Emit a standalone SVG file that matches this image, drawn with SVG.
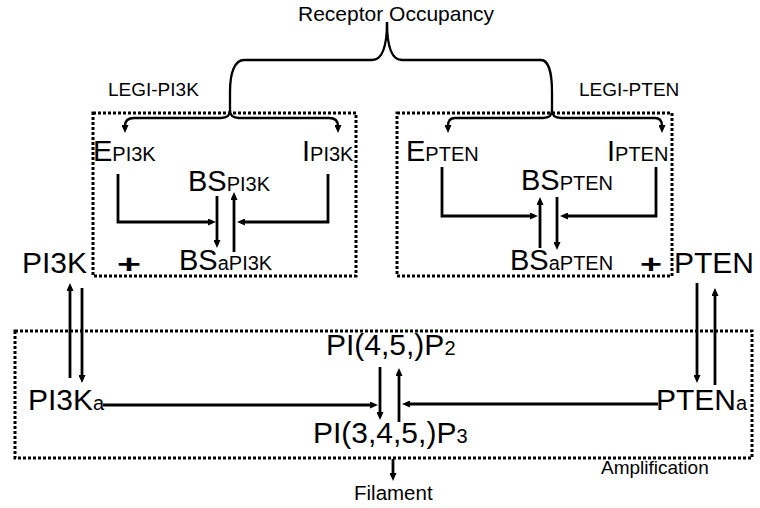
<svg xmlns="http://www.w3.org/2000/svg" width="760" height="508" viewBox="0 0 760 508">
<style>
text{font-family:"Liberation Sans",Arial,sans-serif;fill:#000}
.big{font-size:29px}
.out{font-size:30px}
.sub{font-size:20px}
.lbl{font-size:19px}
.plus{font-size:25px;font-weight:bold}
.box{fill:none;stroke:#000;stroke-width:3;stroke-dasharray:3 2}
.ln{fill:none;stroke:#000;stroke-width:2.8;marker-end:url(#ah)}
.fk{stroke-width:2.3}
.br{fill:none;stroke:#000;stroke-width:2.3}
</style>
<defs>
<marker id="ah" markerWidth="8" markerHeight="7" refX="4" refY="3.5" orient="auto" markerUnits="userSpaceOnUse">
<path d="M0,0 L8,3.5 L0,7 z" fill="#000"/>
</marker>
</defs>
<rect width="760" height="508" fill="#fff"/>

<g id="boxes">
<rect id="legi-pi3k-box" class="box" x="93" y="113" width="263" height="163"/>
<rect id="legi-pten-box" class="box" x="397" y="113" width="275" height="163"/>
<rect id="amplification-box" class="box" x="15" y="331" width="737" height="127"/>
</g>

<g id="connectors">
<path class="br" d="M387,22 C387,48 382,60 372,60 L244,60 C235,60 230,72 230,92 L230,110"/>
<path class="br" d="M387,22 C387,48 392,60 402,60 L541,60 C548,60 552,72 552,92 L552,110"/>
<path class="ln fk" d="M230,110 C230,116 227,118 221,118 L134,118 C128,118 125,121 125,126 L125,129"/>
<path class="ln fk" d="M230,110 C230,116 233,118 239,118 L329,118 C335,118 338,121 338,126 L338,129"/>
<path class="ln fk" d="M552,110 C552,116 549,118 543,118 L455,118 C450,118 448,121 448,126 L448,129"/>
<path class="ln fk" d="M552,110 C552,116 555,118 561,118 L655,118 C660,118 662,121 662,126 L662,129"/>

<path class="ln" d="M118,174 L118,222 L212,222"/>
<path class="ln" d="M328,174 L328,222 L241,222"/>
<path class="ln" d="M217,196 L217,244"/>
<path class="ln" d="M234,252 L234,196"/>

<path class="ln" d="M442,167 L442,216 L534,216"/>
<path class="ln" d="M656,167 L656,216 L564,216"/>
<path class="ln" d="M540,248 L540,201"/>
<path class="ln" d="M557,197 L557,246"/>

<path class="ln" d="M70,378 L70,287"/>
<path class="ln" d="M82,288 L82,379"/>
<path class="ln" d="M697,283 L697,379"/>
<path class="ln" d="M715,385 L715,292"/>

<path class="ln" d="M103,405 L374,405"/>
<path class="ln" d="M658,404 L406,404"/>
<path class="ln" d="M380,367 L380,416"/>
<path class="ln" d="M399,422 L399,372"/>
<path class="ln" d="M393,459 L393,477"/>
</g>

<g id="receptor-occupancy"><text x="298" y="21" style="font-size:21px">Receptor Occupancy</text></g>
<g id="legi-pi3k"><text class="lbl" x="108" y="96">LEGI-PI3K</text></g>
<g id="legi-pten"><text class="lbl" x="579" y="96">LEGI-PTEN</text></g>

<g id="e-pi3k"><text class="big" x="93" y="161">E<tspan class="sub">PI3K</tspan></text></g>
<g id="i-pi3k"><text class="big" x="302" y="161">I<tspan class="sub">PI3K</tspan></text></g>
<g id="bs-pi3k"><text class="big" x="188" y="191">BS<tspan class="sub">PI3K</tspan></text></g>
<g id="bsa-pi3k"><text class="big" x="179" y="270">BS<tspan class="sub">aPI3K</tspan></text></g>
<g id="plus-pi3k"><text class="plus" x="117" y="273" textLength="24" lengthAdjust="spacingAndGlyphs">+</text></g>

<g id="e-pten"><text class="big" x="406" y="161">E<tspan class="sub">PTEN</tspan></text></g>
<g id="i-pten"><text class="big" x="607" y="161">I<tspan class="sub">PTEN</tspan></text></g>
<g id="bs-pten"><text class="big" x="521" y="190">BS<tspan class="sub">PTEN</tspan></text></g>
<g id="bsa-pten"><text class="big" x="510" y="270">BS<tspan class="sub">aPTEN</tspan></text></g>
<g id="plus-pten"><text class="plus" x="640" y="273" textLength="22" lengthAdjust="spacingAndGlyphs">+</text></g>

<g id="pi3k"><text class="out" x="22" y="273">PI3K</text></g>
<g id="pten"><text class="out" x="674" y="273">PTEN</text></g>
<g id="pi3k-a"><text class="out" x="28" y="410">PI3K<tspan class="sub">a</tspan></text></g>
<g id="pten-a"><text class="out" x="656" y="410">PTEN<tspan class="sub">a</tspan></text></g>
<g id="pip2"><text class="out" x="326" y="355">PI(4,5,)P<tspan class="sub">2</tspan></text></g>
<g id="pip3"><text class="out" x="313" y="443">PI(3,4,5,)P<tspan class="sub">3</tspan></text></g>
<g id="filament"><text x="354" y="500" style="font-size:20.5px">Filament</text></g>
<g id="amplification"><text class="lbl" x="601" y="474">Amplification</text></g>
</svg>
